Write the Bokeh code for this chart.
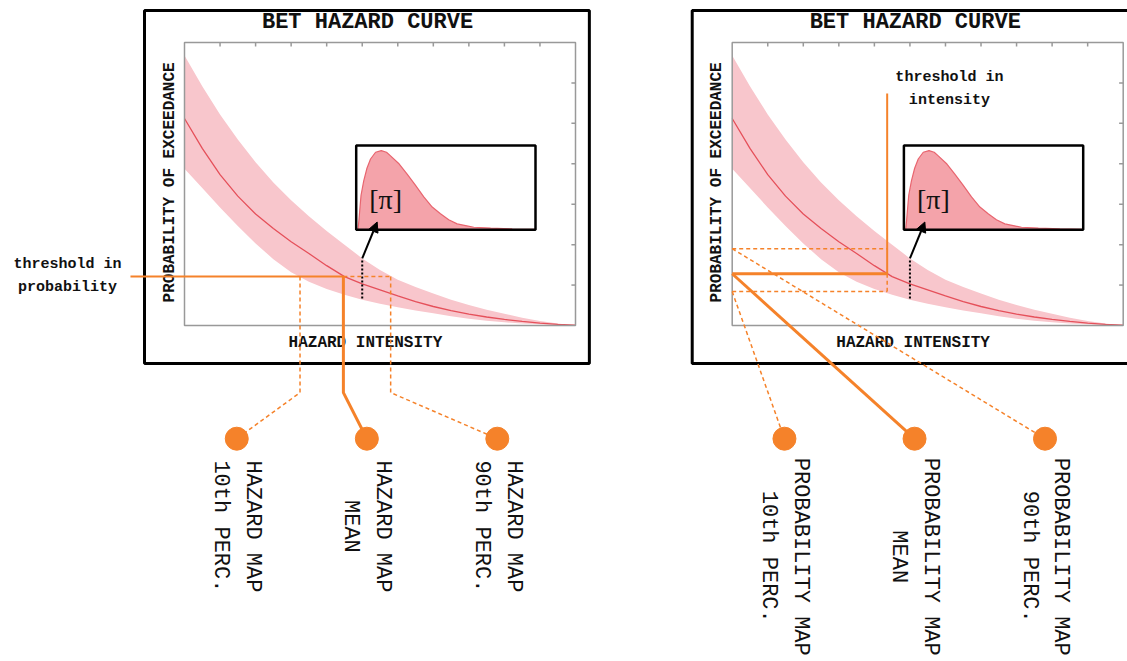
import math
from bokeh.plotting import figure
from bokeh.models import Range1d, Arrow, NormalHead
from bokeh.core.properties import value
from bokeh.embed import file_html
from bokeh.resources import INLINE

# ---------------- data ----------------
intensity = [0.0, 0.5, 1.0, 1.5, 2.0, 2.5, 3.0, 3.5, 4.0, 4.5, 5.0, 5.5,
             6.0, 6.5, 7.0, 7.5, 8.0, 8.5, 9.0, 9.5, 10.0, 10.5, 11.0]
prob_mean = [5.12, 4.38, 3.73, 3.20, 2.76, 2.40, 2.07, 1.78, 1.48, 1.21, 1.03, 0.88,
             0.73, 0.59, 0.47, 0.37, 0.28, 0.21, 0.15, 0.10, 0.06, 0.03, 0.01]
prob_p10 = [3.88, 3.40, 2.92, 2.46, 2.03, 1.64, 1.32, 1.08, 0.90, 0.76, 0.64, 0.54,
            0.45, 0.37, 0.30, 0.23, 0.17, 0.12, 0.08, 0.05, 0.03, 0.01, 0.0]
prob_p90 = [6.68, 5.92, 5.22, 4.60, 4.04, 3.54, 3.10, 2.70, 2.34, 2.00, 1.66, 1.37,
            1.13, 0.95, 0.79, 0.64, 0.51, 0.39, 0.29, 0.19, 0.11, 0.05, 0.0]

# inset distribution [pi]
pdf_u = [0.01, 0.015, 0.027, 0.042, 0.06, 0.08, 0.108, 0.14, 0.169, 0.19, 0.24, 0.284,
         0.33, 0.377, 0.424, 0.47, 0.516, 0.563, 0.61, 0.656, 0.75, 0.87, 1.0]
pdf_v = [0.0, 0.11, 0.41, 0.58, 0.73, 0.84, 0.92, 0.94, 0.92, 0.88, 0.78, 0.66,
         0.53, 0.39, 0.27, 0.19, 0.12, 0.07, 0.05, 0.03, 0.02, 0.01, 0.005]

# left panel: threshold in probability -> hazard map intensities (10th, mean, 90th)
threshold_prob = 1.21
map_intensity = [3.25, 4.47, 5.80]
# right panel: threshold in intensity -> probability map values (10th, mean, 90th)
threshold_intensity = 4.36
map_probability = [0.84, 1.28, 1.90]

hazard_labels = ["HAZARD MAP\n10th PERC.", "HAZARD MAP\nMEAN", "HAZARD MAP\n90th PERC."]
prob_labels = ["PROBABILITY MAP\n10th PERC.", "PROBABILITY MAP\nMEAN", "PROBABILITY MAP\n90th PERC."]

# ---------------- layout ----------------
W, H = 1127, 661
PX0, PX1 = 0, W              # screen pixels covered by the figure
PY_BOT, PY_TOP = H, 0
OFF = 547.7                  # horizontal offset of second panel


def prange(p0, v0, p1, v1, lo, hi):
    s = (v1 - v0) / (p1 - p0)
    return Range1d(start=v0 + (lo - p0) * s, end=v0 + (hi - p0) * s)


p = figure(width=W, height=H, x_range=Range1d(PX0, PX1), y_range=Range1d(PY_BOT, PY_TOP),
           output_backend="svg", toolbar_location=None, min_border=0,
           x_axis_location=None, y_axis_location=None)
p.grid.visible = False
p.outline_line_color = None
p.background_fill_color = "white"

p.extra_x_ranges = {
    "L": prange(184, 0, 575, 11, PX0, PX1),
    "R": prange(184 + OFF, 0, 575 + OFF, 11, PX0, PX1),
    "IL": prange(355.7, 0, 535, 1, PX0, PX1),
    "IR": prange(355.7 + OFF, 0, 535 + OFF, 1, PX0, PX1),
}
p.extra_y_ranges = {
    "P": prange(325, 0, 42, 7, PY_BOT, PY_TOP),
    "I": prange(229.3, 0, 145, 1, PY_BOT, PY_TOP),
}

ORANGE = "#F5822A"
BAND = "#F8C6CC"
RED = "#E5505A"
MONO = value("Liberation Mono")

circle_x = [1.47, 5.13, 8.80]
circle_y = -2.80
elbow_y = -1.66

for xr, ir in [("L", "IL"), ("R", "IR")]:
    kw = dict(x_range_name=xr, y_range_name="P")
    ikw = dict(x_range_name=ir, y_range_name="I")
    # outer box
    p.quad(left=-1.125, right=11.39, top=7.79, bottom=-0.94, fill_color=None,
           line_color="black", line_width=3, **kw)
    p.text(x=[5.15], y=[7.49], text=["BET HAZARD CURVE"], text_font=MONO,
           text_font_style="bold", text_font_size="22px", text_align="center",
           text_baseline="middle", text_color="#111", **kw)
    # band + mean curve
    p.varea(x=intensity, y1=prob_p10, y2=prob_p90, fill_color=BAND, fill_alpha=1, **kw)
    p.line(intensity, prob_mean, line_color=RED, line_width=1.3, **kw)
    # frame and ticks
    p.quad(left=0, right=11, top=7, bottom=0, fill_color=None, line_color="#999999",
           line_width=1.5, **kw)
    tx = list(range(1, 11))
    p.segment(x0=tx, y0=[7] * 10, x1=tx, y1=[6.9] * 10, line_color="#999999", line_width=1.5, **kw)
    ty = list(range(1, 7))
    p.segment(x0=[11] * 6, y0=ty, x1=[10.885] * 6, y1=ty, line_color="#999999", line_width=1.5, **kw)
    # axis labels
    p.text(x=[-0.42], y=[3.54], text=["PROBABILITY OF EXCEEDANCE"], angle=math.pi / 2,
           text_font=MONO, text_font_style="bold", text_font_size="16px",
           text_align="center", text_baseline="middle", text_color="#111", **kw)
    p.text(x=[5.09], y=[-0.44], text=["HAZARD INTENSITY"], text_font=MONO,
           text_font_style="bold", text_font_size="16px", text_align="center",
           text_baseline="middle", text_color="#111", **kw)
    # inset
    p.quad(left=0, right=1, top=1, bottom=0, fill_color="white", line_color=None, **ikw)
    p.varea(x=pdf_u, y1=[0] * len(pdf_u), y2=pdf_v, fill_color="#F4A3AA", **ikw)
    p.line(pdf_u, pdf_v, line_color="#E8656F", line_width=1.2, **ikw)
    p.quad(left=0, right=1, top=1, bottom=0, fill_color=None, line_color="black",
           line_width=2.5, **ikw)
    p.text(x=[5.66], y=[3.12], text=["[π]"], text_font=value("Liberation Serif"),
           text_font_size="28px", text_align="center", text_baseline="middle",
           text_color="#111", **kw)
    # arrow + dotted line
    p.add_layout(Arrow(end=NormalHead(size=10, fill_color="black", line_color="black"),
                       x_start=5.0, y_start=1.66, x_end=5.42, y_end=2.56,
                       line_color="black", line_width=2, **kw))
    p.segment(x0=[5.0], y0=[1.61], x1=[5.0], y1=[0.67], line_color="black",
              line_width=2, line_dash="2 2", **kw)

# ---------------- left panel: hazard maps ----------------
kw = dict(x_range_name="L", y_range_name="P")
t = threshold_prob
p.line([-1.52, map_intensity[1]], [t, t], line_color=ORANGE, line_width=2, **kw)
p.line([map_intensity[1], map_intensity[2]], [t, t], line_color=ORANGE, line_width=1.5,
       line_dash="4 3", **kw)
for i, xi in enumerate(map_intensity):
    mean = i == 1
    p.line([xi, xi, circle_x[i]], [t, elbow_y, circle_y], line_color=ORANGE,
           line_width=3 if mean else 1.5, line_dash="solid" if mean else "4 3", **kw)
p.scatter(circle_x, [circle_y] * 3, size=23, fill_color=ORANGE, line_color=ORANGE, **kw)
p.text(x=circle_x, y=[-4.97] * 3, text=hazard_labels, angle=-math.pi / 2, text_font=MONO,
       text_font_size="22px", text_align="center", text_baseline="middle",
       text_line_height=1.27, text_color="#111", **kw)
p.text(x=[-3.29], y=[1.22], text=["threshold in\nprobability"], text_font=MONO,
       text_font_style="bold", text_font_size="15px", text_align="center",
       text_baseline="middle", text_line_height=1.35, text_color="#111", **kw)

# ---------------- right panel: probability maps ----------------
kw = dict(x_range_name="R", y_range_name="P")
ti = threshold_intensity
p.line([ti, ti], [5.74, map_probability[1]], line_color=ORANGE, line_width=2, **kw)
p.line([ti, ti], [map_probability[1], map_probability[0]], line_color=ORANGE,
       line_width=1.5, line_dash="4 3", **kw)
for i, pp in enumerate(map_probability):
    mean = i == 1
    p.line([0, ti], [pp, pp], line_color=ORANGE, line_width=3 if mean else 1.5,
           line_dash="solid" if mean else "4 3", **kw)
    p.line([0, circle_x[i]], [pp, circle_y], line_color=ORANGE,
           line_width=3 if mean else 1.5, line_dash="solid" if mean else "4 3", **kw)
p.scatter(circle_x, [circle_y] * 3, size=23, fill_color=ORANGE, line_color=ORANGE, **kw)
p.text(x=circle_x, y=[-5.72] * 3, text=prob_labels, angle=-math.pi / 2, text_font=MONO,
       text_font_size="22px", text_align="center", text_baseline="middle",
       text_line_height=1.27, text_color="#111", **kw)
p.text(x=[6.11], y=[5.84], text=["threshold in\nintensity"], text_font=MONO,
       text_font_style="bold", text_font_size="15px", text_align="center",
       text_baseline="middle", text_line_height=1.35, text_color="#111", **kw)

open("out.html", "w").write(file_html(p, INLINE))
